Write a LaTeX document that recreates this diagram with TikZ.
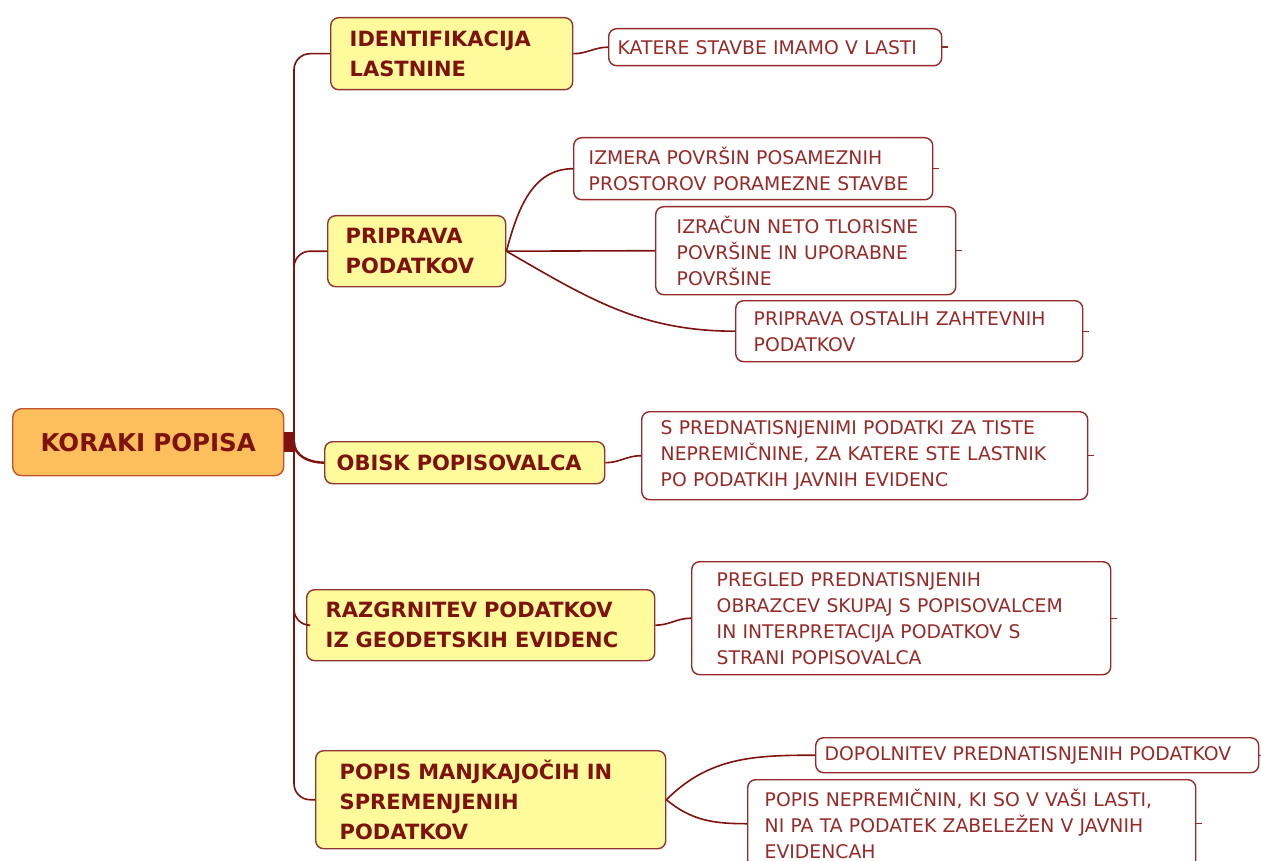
\documentclass[tikz,border=0pt]{standalone}
\usepackage{fontspec}
\setmainfont{DejaVu Sans}
\usepackage{xcolor}
\definecolor{MapRed}{RGB}{125,18,14}
\definecolor{LeafRed}{RGB}{150,42,40}
\definecolor{TopicFill}{RGB}{255,250,156}
\definecolor{RootFill}{RGB}{253,190,92}
\definecolor{RootEdge}{RGB}{192,84,44}

\begin{document}
\begin{tikzpicture}[x=1pt,y=-1pt,
root/.style={rectangle,rounded corners=9pt,draw=RootEdge,fill=RootFill,line width=1.4pt,anchor=north west,align=center,text=MapRed,font=\fontsize{24.5}{30}\selectfont\bfseries},
topic/.style={rectangle,rounded corners=8pt,draw=MapRed!85,fill=TopicFill,line width=1.4pt,anchor=north west,align=left,text=MapRed,font=\fontsize{21}{30}\selectfont\bfseries},
leaf/.style={rectangle,rounded corners=8pt,draw=LeafRed,fill=white,line width=1.4pt,anchor=north west,align=left,text=LeafRed,font=\fontsize{18.8}{26}\selectfont},
link/.style={draw=MapRed,line width=1.6pt},
tick/.style={draw=LeafRed,line width=1.4pt}
]
\useasboundingbox (0,0) rectangle (1261,861);
% root and hub
\node[root,text width=221pt,inner xsep=25pt,minimum height=67pt] (root) at (12,408) {KORAKI POPISA};
\coordinate (hub) at (294,442);
% main steps
\node[topic,text width=204pt,inner xsep=19pt,minimum height=72pt] (ident) at (330,17) {IDENTIFIKACIJA\\LASTNINE};
\node[topic,text width=142pt,inner xsep=18pt,minimum height=71pt] (prip) at (327,215) {PRIPRAVA\\PODATKOV};
\node[topic,text width=256pt,inner xsep=12pt,minimum height=42pt] (obisk) at (324,441) {OBISK POPISOVALCA};
\node[topic,text width=310pt,inner xsep=19pt,minimum height=71pt] (razgr) at (306,589) {RAZGRNITEV PODATKOV\\IZ GEODETSKIH EVIDENC};
\node[topic,text width=302pt,inner xsep=24pt,minimum height=98pt] (popis) at (315,750) {POPIS MANJKAJOČIH IN\\SPREMENJENIH\\PODATKOV};
% details
\node[leaf,text width=315pt,inner xsep=9pt,minimum height=37pt] (katere) at (608,28) {KATERE STAVBE IMAMO V LASTI};
\node[leaf,text width=329pt,inner xsep=15pt,minimum height=62pt] (izmera) at (573,137) {IZMERA POVRŠIN POSAMEZNIH\\PROSTOROV PORAMEZNE STAVBE};
\node[leaf,text width=258pt,inner xsep=21pt,minimum height=88pt] (izracun) at (655,206) {IZRAČUN NETO TLORISNE\\POVRŠINE IN UPORABNE\\POVRŠINE};
\node[leaf,text width=311pt,inner xsep=18pt,minimum height=61pt] (ostalih) at (735,300) {PRIPRAVA OSTALIH ZAHTEVNIH\\PODATKOV};
\node[leaf,text width=408pt,inner xsep=19pt,minimum height=88pt] (prednat) at (641,411) {S PREDNATISNJENIMI PODATKI ZA TISTE\\NEPREMIČNINE, ZA KATERE STE LASTNIK\\PO PODATKIH JAVNIH EVIDENC};
\node[leaf,text width=369pt,inner xsep=25pt,minimum height=113pt] (pregled) at (691,561) {PREGLED PREDNATISNJENIH\\OBRAZCEV SKUPAJ S POPISOVALCEM\\IN INTERPRETACIJA PODATKOV S\\STRANI POPISOVALCA};
\node[leaf,text width=425pt,inner xsep=9pt,minimum height=35pt] (dopoln) at (815,737) {DOPOLNITEV PREDNATISNJENIH PODATKOV};
\node[leaf,text width=414pt,inner xsep=17pt,minimum height=88pt] (neprem) at (747,779) {POPIS NEPREMIČNIN, KI SO V VAŠI LASTI,\\NI PA TA PODATEK ZABELEŽEN V JAVNIH\\EVIDENCAH};
% root to steps
\fill[MapRed] (root.east|-0,432) rectangle (hub|-0,452);
\foreach \n in {ident,prip,razgr,popis} \draw[link,rounded corners=16pt] (hub) |- (\n.west);
\draw[link,line width=2.4pt] (hub) to[out=-90,in=180] (obisk.west);
% steps to details
\draw[link] (ident.east) to[out=0,in=180] (katere.west);
\draw[link] (prip.east) to[out=75,in=180] (izmera.west);
\draw[link] (prip.east) -- (izracun.west);
\draw[link] (prip.east) to[out=-30,in=180] (ostalih.west);
\draw[link] (obisk.east) to[out=0,in=180] (prednat.west);
\draw[link] (razgr.east) to[out=0,in=180] (pregled.west);
\draw[link] (popis.east) to[out=45,in=180] (dopoln.west);
\draw[link] (popis.east) to[out=-40,in=180] (neprem.west);
% small ticks on the right
\foreach \n in {katere,izmera,izracun,ostalih,prednat,pregled,dopoln,neprem} \draw[tick] (\n.east) -- ++(6,0);
\end{tikzpicture}
\end{document}
